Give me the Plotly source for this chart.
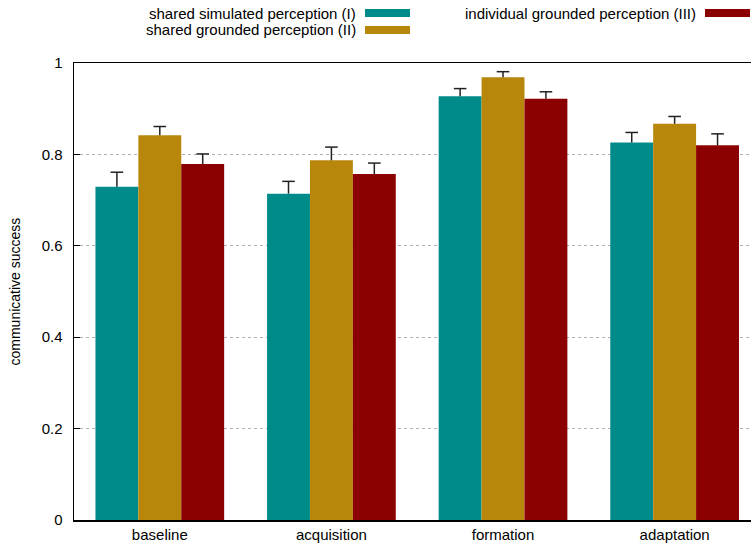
import plotly.graph_objects as go

categories = ["baseline", "acquisition", "formation", "adaptation"]
series_names = ["shared simulated perception (I)",
                "shared grounded perception (II)",
                "individual grounded perception (III)"]
colors = ["#008B8B", "#B8860B", "#8B0000"]

sim_vals = [0.729, 0.714, 0.927, 0.826]
sim_err = [0.032, 0.027, 0.017, 0.022]
grd_vals = [0.842, 0.787, 0.969, 0.867]
grd_err = [0.019, 0.029, 0.012, 0.016]
ind_vals = [0.779, 0.757, 0.922, 0.820]
ind_err = [0.022, 0.024, 0.015, 0.025]

y_ticks = [0, 0.2, 0.4, 0.6, 0.8, 1]
y_tick_labels = ["0", "0.2", "0.4", "0.6", "0.8", "1"]

FONT = "Liberation Sans, Arial, Helvetica, sans-serif"

W, H = 751, 547
ML, MR, MT, MB = 74, 0, 63, 27
PW = W - ML - MR
PH = H - MT - MB

fig = go.Figure()
xs = list(range(len(categories)))
for i, (name, vals, errs, col) in enumerate(zip(series_names,
                                                [sim_vals, grd_vals, ind_vals],
                                                [sim_err, grd_err, ind_err],
                                                colors)):
    fig.add_trace(go.Bar(
        x=xs, y=vals, name=name, offsetgroup=str(i),
        marker=dict(color=col, line=dict(width=0)),
        error_y=dict(type="data", symmetric=False, array=errs,
                     arrayminus=[0] * len(errs), color="#222222",
                     thickness=1.5, width=0),
        showlegend=False,
    ))
    # error-bar caps
    fig.add_trace(go.Scatter(
        x=xs, y=[v + e for v, e in zip(vals, errs)], mode="markers",
        offsetgroup=str(i),
        marker=dict(symbol="line-ew", size=9, color="#222222",
                    line=dict(width=1.5, color="#222222")),
        showlegend=False, hoverinfo="skip",
    ))

def px_x(p):
    return (p - ML) / PW

def px_y(p):
    return (H - MB - p) / PH

# gnuplot-style legend: text right-aligned, swatch on its right
legend_pos = [(357, 13), (357, 30), (697, 13)]
shapes = []
annotations = []
for name, col, (tx, ty) in zip(series_names, colors, legend_pos):
    annotations.append(dict(
        x=px_x(tx), y=px_y(ty), xref="paper", yref="paper",
        text=name, showarrow=False, xanchor="right", yanchor="middle",
        borderpad=0,
        font=dict(family=FONT, size=15, color="#000000")))
    shapes.append(dict(
        type="rect", xref="paper", yref="paper",
        x0=px_x(tx + 8), x1=px_x(tx + 53),
        y0=px_y(ty + 4), y1=px_y(ty - 4),
        fillcolor=col, line=dict(width=0)))

annotations.append(dict(
    x=px_x(14), y=0.5, xref="paper", yref="paper",
    text="communicative success", textangle=-90, showarrow=False,
    xanchor="center", yanchor="middle",
    font=dict(family=FONT, size=14, color="#000000")))

fig.update_layout(
    width=W, height=H,
    margin=dict(l=ML, r=MR, t=MT, b=MB, pad=0),
    paper_bgcolor="white", plot_bgcolor="white",
    barmode="group", bargap=0.25, bargroupgap=0,
    scattermode="group", scattergap=0.25,
    font=dict(family=FONT, size=15, color="#000000"),
    shapes=shapes, annotations=annotations,
    xaxis=dict(
        range=[-0.5, 3.445], tickmode="array", tickvals=xs,
        ticktext=categories, showgrid=False, zeroline=False,
        showline=True, linecolor="#000000", linewidth=1.5, mirror=True,
        ticks="", tickfont=dict(family=FONT, size=15),
        fixedrange=True,
    ),
    yaxis=dict(
        range=[0, 1], tickmode="array", tickvals=y_ticks,
        ticktext=y_tick_labels, showgrid=True, gridcolor="#b0b0b0",
        griddash="dot", gridwidth=1, zeroline=False,
        showline=True, linecolor="#000000", linewidth=1.5, mirror=False,
        ticks="inside", ticklen=6, tickcolor="#000000", tickwidth=1,
        ticklabelstandoff=7, tickfont=dict(family=FONT, size=15),
        fixedrange=True,
    ),
)

fig.write_html("out.html",
               config={"displayModeBar": False, "staticPlot": True},
               post_script="document.body.style.margin='0';"
                           "document.body.style.overflow='hidden';")
